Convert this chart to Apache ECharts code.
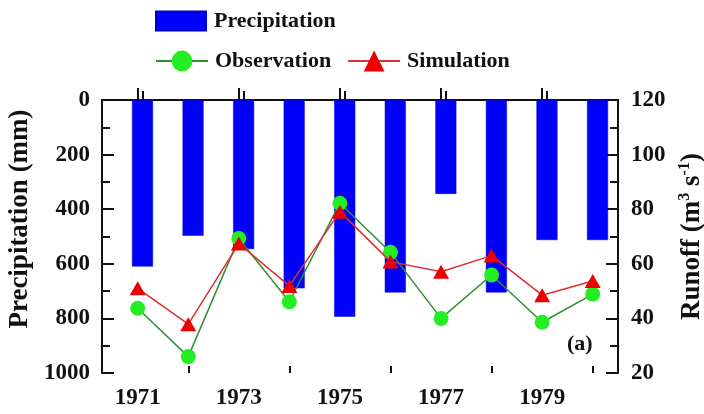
<!DOCTYPE html>
<html>
<head>
<meta charset="utf-8">
<script src="https://cdn.jsdelivr.net/npm/echarts@6/dist/echarts.min.js"></script>
<style>
html,body{margin:0;padding:0;background:#fff;}
#chart{width:704px;height:414px;}
</style>
</head>
<body>
<div id="chart"></div>
<script>
const years = [1971, 1972, 1973, 1974, 1975, 1976, 1977, 1978, 1979, 1980];
const precipitation = [610, 497, 546, 690, 794, 705, 344, 705, 513, 513];
const observation = [43.7, 26.0, 69.3, 46.1, 82.2, 64.2, 40.0, 55.9, 38.6, 48.9];
const simulation = [51.0, 37.9, 67.4, 51.9, 79.1, 60.8, 57.1, 63.0, 48.5, 53.7];
const labelYears = [1971, 1973, 1975, 1977, 1979];
const minorYears = [1972, 1974, 1976, 1978, 1980];

const FONT = '"Liberation Serif", "Times New Roman", serif';
const txt = { fontFamily: FONT, fontWeight: 'bold', color: '#111' };

const chart = echarts.init(document.getElementById('chart'), null, { renderer: 'canvas' });

const option = {
  backgroundColor: '#ffffff',
  animation: false,
  grid: { left: 102, right: 86, top: 100, bottom: 41, containLabel: false, outerBoundsMode: 'none' },
  legend: [
    {
      data: [{ name: 'Precipitation', icon: 'rect' }],
      left: 155, top: 10, padding: 0,
      itemWidth: 50, itemHeight: 19,
      textStyle: Object.assign({ fontSize: 22, padding: [0, 0, 0, 3] }, txt),
      selectedMode: false
    },
    {
      data: ['Observation', 'Simulation'],
      left: 155, top: 50, padding: 0,
      itemWidth: 52, itemHeight: 26, itemGap: 16,
      textStyle: Object.assign({ fontSize: 22, padding: [0, 0, 0, 2] }, txt),
      selectedMode: false
    }
  ],
  xAxis: [
    {
      type: 'value', position: 'bottom',
      min: 1970.294, max: 1980.5,
      splitLine: { show: false },
      axisLine: { show: true, lineStyle: { color: '#111', width: 2 } },
      axisTick: { show: true, inside: true, length: 12, customValues: labelYears, lineStyle: { color: '#111', width: 2 } },
      axisLabel: Object.assign({ fontSize: 23, margin: 14, customValues: labelYears, formatter: v => String(v) }, txt)
    },
    {
      type: 'value', position: 'top',
      min: 1970.199, max: 1980.405,
      splitLine: { show: false },
      axisLine: { show: true, lineStyle: { color: '#111', width: 2 } },
      axisTick: { show: true, inside: false, length: 9, customValues: labelYears, lineStyle: { color: '#111', width: 2 } },
      axisLabel: { show: false }
    },
    {
      type: 'value', position: 'bottom',
      min: 1970.294, max: 1980.5,
      splitLine: { show: false },
      axisLine: { show: false },
      axisTick: { show: true, inside: true, length: 7, customValues: minorYears, lineStyle: { color: '#111', width: 2 } },
      axisLabel: { show: false }
    }
  ],
  yAxis: [
    {
      type: 'value', position: 'left', inverse: true,
      min: 0, max: 1000, interval: 200,
      name: 'Precipitation (mm)',
      nameLocation: 'middle', nameGap: 59, nameRotate: 90,
      nameTextStyle: Object.assign({ fontSize: 27, padding: [0, 0, 0, 35] }, txt),
      splitLine: { show: false },
      axisLine: { show: true, lineStyle: { color: '#111', width: 2 } },
      axisTick: { show: true, inside: true, length: 12, lineStyle: { color: '#111', width: 2 } },
      minorTick: { show: true, splitNumber: 2, length: 8, lineStyle: { color: '#111', width: 2 } },
      axisLabel: Object.assign({ fontSize: 23, margin: 12, formatter: v => String(v) }, txt)
    },
    {
      type: 'value', position: 'right',
      min: 20, max: 120, interval: 20,
      name: '{t|Runoff (m}{s|3}{t| s}{s|-1}{t|)}',
      nameLocation: 'middle', nameGap: 55, nameRotate: 90,
      nameTextStyle: {
        rich: {
          t: Object.assign({ fontSize: 27, lineHeight: 31 }, txt),
          s: Object.assign({ fontSize: 16, lineHeight: 31, verticalAlign: 'top' }, txt)
        }
      },
      splitLine: { show: false },
      axisLine: { show: true, lineStyle: { color: '#111', width: 2 } },
      axisTick: { show: true, inside: true, length: 12, lineStyle: { color: '#111', width: 2 } },
      minorTick: { show: true, splitNumber: 2, length: 8, lineStyle: { color: '#111', width: 2 } },
      axisLabel: Object.assign({ fontSize: 23, margin: 13 }, txt)
    }
  ],
  series: [
    {
      name: 'Precipitation', type: 'bar',
      xAxisIndex: 1, yAxisIndex: 0,
      barWidth: 21,
      itemStyle: { color: '#0000ff', borderColor: '#0000cc', borderWidth: 0.5 },
      data: years.map((y, i) => [y, precipitation[i]])
    },
    {
      name: 'Observation', type: 'line',
      xAxisIndex: 0, yAxisIndex: 1,
      symbol: 'circle', symbolSize: 15,
      lineStyle: { color: '#2f8f2f', width: 1.5 },
      itemStyle: { color: '#22ee22' },
      data: years.map((y, i) => [y, observation[i]]),
      z: 3
    },
    {
      name: 'Simulation', type: 'line',
      xAxisIndex: 0, yAxisIndex: 1,
      symbol: 'triangle', symbolSize: [16, 14],
      lineStyle: { color: '#dd3030', width: 1.5 },
      itemStyle: { color: '#ee0000' },
      data: years.map((y, i) => [y, simulation[i]]),
      z: 4
    }
  ],
  graphic: [
    {
      type: 'text', left: 567, top: 333,
      style: { text: '(a)', font: 'bold 22px "Liberation Serif", "Times New Roman", serif', fill: '#111' }
    }
  ]
};
chart.setOption(option);
</script>
</body>
</html>
